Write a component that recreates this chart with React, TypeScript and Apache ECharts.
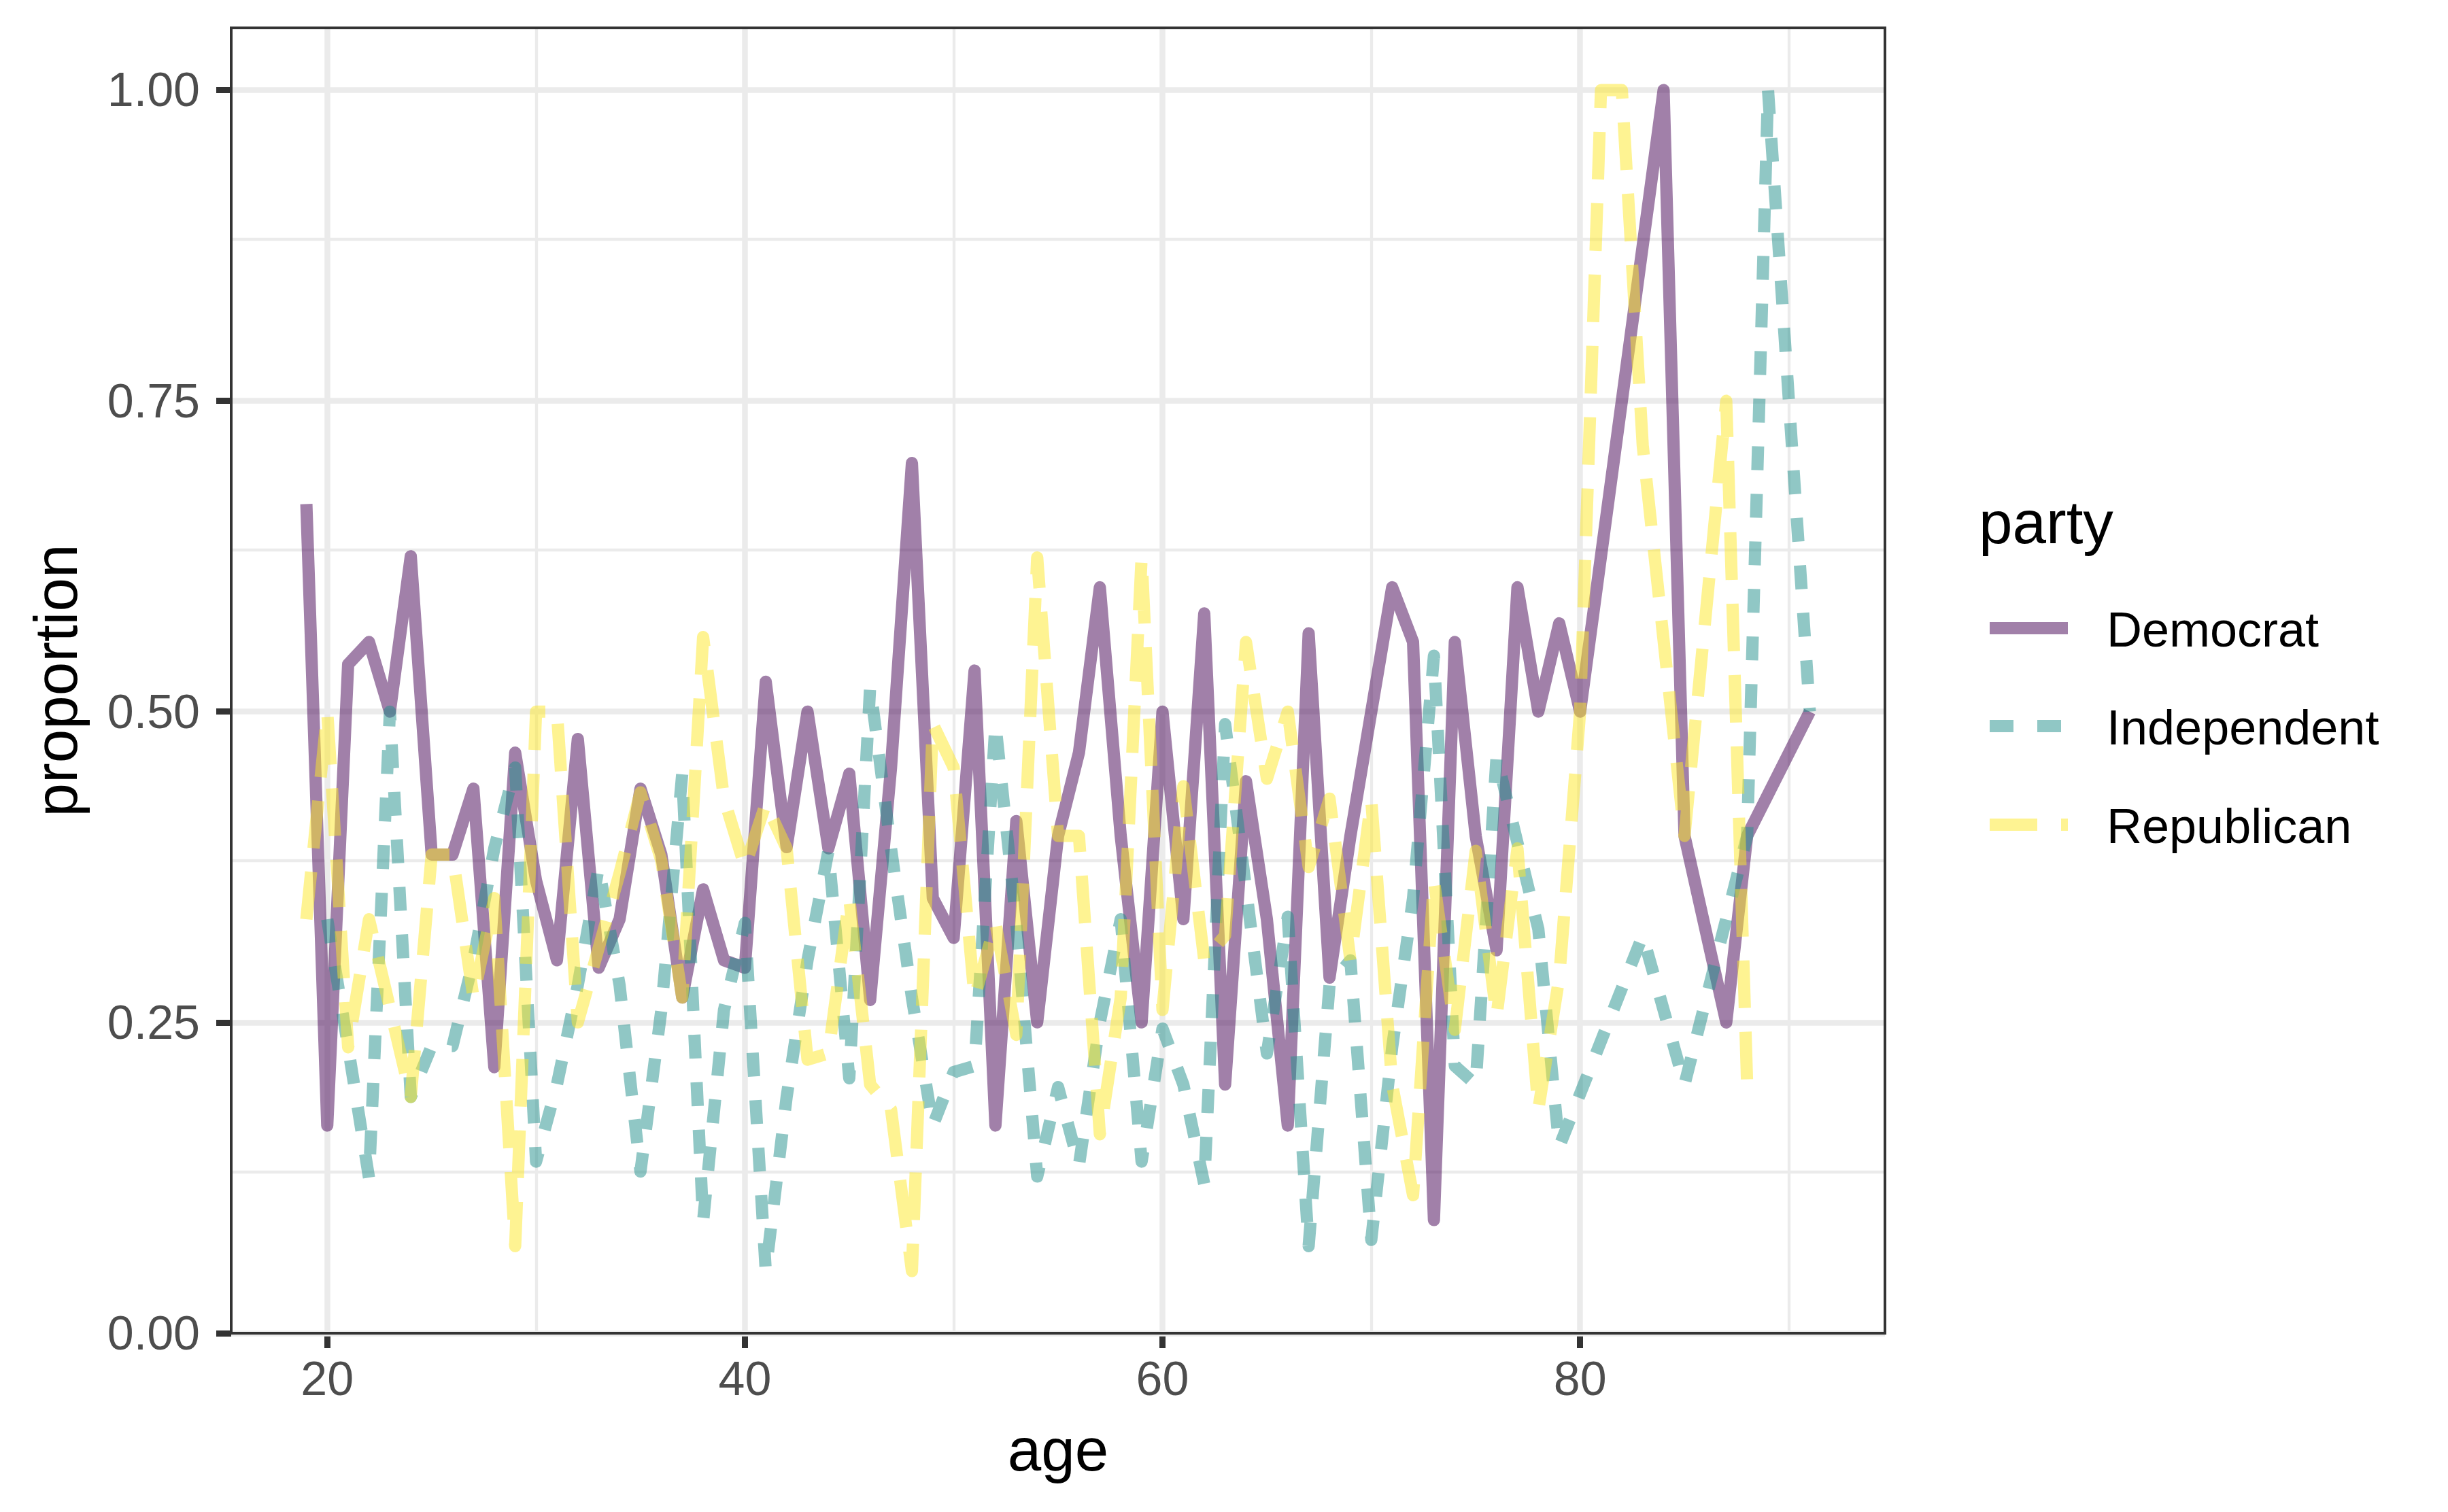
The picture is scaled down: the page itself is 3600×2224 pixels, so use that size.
import React, { useEffect, useRef } from "react";
import * as echarts from "echarts";

// ---- data (age, proportion) ----
const democrat: [number, number][] = [
  [19, 0.667], [20, 0.167], [21, 0.538], [22, 0.556], [23, 0.5], [24, 0.625], [25, 0.385], [26, 0.385],
  [27, 0.438], [28, 0.214], [29, 0.467], [30, 0.364], [31, 0.3], [32, 0.478], [33, 0.294], [34, 0.333],
  [35, 0.438], [36, 0.385], [37, 0.27], [38, 0.357], [39, 0.3], [40, 0.294], [41, 0.524], [42, 0.391],
  [43, 0.5], [44, 0.39], [45, 0.45], [46, 0.268], [47, 0.455], [48, 0.7], [49, 0.35], [50, 0.318],
  [51, 0.533], [52, 0.167], [53, 0.412], [54, 0.25], [55, 0.4], [56, 0.467], [57, 0.6], [58, 0.4],
  [59, 0.25], [60, 0.5], [61, 0.333], [62, 0.579], [63, 0.2], [64, 0.444], [65, 0.333], [66, 0.167],
  [67, 0.563], [68, 0.286], [69, 0.4], [70, 0.5], [71, 0.6], [72, 0.556], [73, 0.091], [74, 0.556],
  [75, 0.4], [76, 0.308], [77, 0.6], [78, 0.5], [79, 0.571], [80, 0.5], [84, 1], [85, 0.4],
  [87, 0.25], [88, 0.4], [91, 0.5],
];
const independent: [number, number][] = [
  [20, 0.333], [21, 0.23], [22, 0.125], [23, 0.5], [24, 0.19], [25, 0.231], [26, 0.231], [27, 0.3],
  [28, 0.39], [29, 0.455], [30, 0.138], [31, 0.2], [32, 0.28], [33, 0.375], [34, 0.28], [35, 0.13],
  [36, 0.26], [37, 0.45], [38, 0.09], [39, 0.26], [40, 0.33], [41, 0.05], [42, 0.19], [43, 0.3],
  [44, 0.388], [45, 0.205], [46, 0.52], [47, 0.39], [48, 0.27], [49, 0.167], [50, 0.21], [51, 0.215],
  [52, 0.49], [53, 0.33], [54, 0.126], [55, 0.198], [56, 0.135], [57, 0.25], [58, 0.333], [59, 0.138],
  [60, 0.245], [61, 0.2], [62, 0.12], [63, 0.49], [65, 0.225], [66, 0.335], [67, 0.07], [68, 0.28],
  [69, 0.3], [70, 0.075], [71, 0.23], [72, 0.35], [73, 0.545], [74, 0.215], [75, 0.2], [76, 0.464],
  [78, 0.325], [79, 0.15], [83, 0.32], [85, 0.2], [88, 0.4], [89, 1], [91, 0.5],
];
const republican: [number, number][] = [
  [19, 0.333], [20, 0.5], [21, 0.23], [22, 0.333], [24, 0.19], [25, 0.385], [26, 0.385], [27, 0.27],
  [28, 0.35], [29, 0.07], [30, 0.5], [31, 0.5], [32, 0.25], [33, 0.31], [34, 0.37], [35, 0.435],
  [36, 0.38], [37, 0.27], [38, 0.56], [39, 0.43], [40, 0.375], [41, 0.426], [42, 0.39], [43, 0.22],
  [44, 0.225], [45, 0.35], [46, 0.2], [47, 0.18], [48, 0.05], [49, 0.49], [50, 0.455], [51, 0.27],
  [52, 0.33], [53, 0.24], [54, 0.624], [55, 0.4], [56, 0.4], [57, 0.16], [58, 0.27], [59, 0.624],
  [60, 0.26], [61, 0.44], [62, 0.3], [63, 0.32], [64, 0.556], [65, 0.446], [66, 0.5], [67, 0.375],
  [68, 0.43], [69, 0.3], [70, 0.429], [71, 0.2], [72, 0.111], [73, 0.364], [74, 0.244], [75, 0.388],
  [76, 0.255], [77, 0.39], [78, 0.18], [79, 0.286], [80, 0.5], [81, 1], [82, 1], [83, 0.714],
  [85, 0.4], [87, 0.75], [88, 0.2],
];

const parties = ["Democrat", "Independent", "Republican"];
const xTicks = [20, 40, 60, 80];
const xMinor = [30, 50, 70, 90];
const yTicks = [0, 0.25, 0.5, 0.75, 1];
const yMinor = [0.125, 0.375, 0.625, 0.875];

const FONT = "'Liberation Sans', Arial, Helvetica, sans-serif";
const COLORS = ["rgba(68,1,84,0.5)", "rgba(33,144,140,0.5)", "rgba(253,231,37,0.5)"];
const DASHES: any[] = ["solid", [35, 35], [70, 35]];
const LW = 18;

const GRID = { left: 340, top: 41, width: 2432, height: 1920 };

export default function App() {
  const ref = useRef<HTMLDivElement>(null);
  useEffect(() => {
    if (!ref.current) return;
    const chart = echarts.init(ref.current, undefined, { renderer: "svg" });
    const seriesData = [democrat, independent, republican];

    const gridMarks = [
      ...xTicks.map((v) => ({ xAxis: v, lineStyle: { width: 8.5 } })),
      ...xMinor.map((v) => ({ xAxis: v, lineStyle: { width: 4.3 } })),
      ...yTicks.map((v) => ({ yAxis: v, lineStyle: { width: 8.5 } })),
      ...yMinor.map((v) => ({ yAxis: v, lineStyle: { width: 4.3 } })),
    ];

    const legendX0 = 2926;
    const legendX1 = 3041;
    const legendYs = [924, 1068, 1213];
    const legendGraphics: any[] = [];
    parties.forEach((p, i) => {
      legendGraphics.push({
        type: "line",
        silent: true,
        shape: { x1: legendX0, y1: legendYs[i], x2: legendX1, y2: legendYs[i] },
        style: {
          stroke: COLORS[i],
          lineWidth: LW,
          lineCap: "butt",
          lineDash: i === 0 ? null : DASHES[i],
        },
      });
      legendGraphics.push({
        type: "text",
        silent: true,
        x: 3098,
        y: legendYs[i] + 2,
        style: {
          text: p,
          fontSize: 72,
          fontFamily: FONT,
          fill: "#000000",
          align: "left",
          verticalAlign: "middle",
          textAlign: "left",
          textVerticalAlign: "middle",
        },
      });
    });

    const option: any = {
      animation: false,
      backgroundColor: "#ffffff",
      grid: { ...GRID },
      xAxis: {
        type: "value",
        min: 15.4,
        max: 94.6,
        axisLine: { show: false },
        splitLine: { show: false },
        axisTick: {
          show: true,
          customValues: xTicks,
          length: 22,
          lineStyle: { color: "#333333", width: 9 },
        },
        axisLabel: {
          customValues: xTicks,
          margin: 32,
          color: "#4D4D4D",
          fontSize: 70,
          fontFamily: FONT,
        },
      },
      yAxis: {
        type: "value",
        min: 0,
        max: 1.05,
        axisLine: { show: false },
        splitLine: { show: false },
        axisTick: {
          show: true,
          customValues: yTicks,
          length: 22,
          lineStyle: { color: "#333333", width: 9 },
        },
        axisLabel: {
          customValues: yTicks,
          margin: 46,
          color: "#4D4D4D",
          fontSize: 70,
          fontFamily: FONT,
          formatter: (v: number) => v.toFixed(2),
        },
      },
      series: [
        {
          type: "line",
          name: "grid",
          data: [[15.4, null]],
          showSymbol: false,
          silent: true,
          z: 1,
          lineStyle: { width: 0 },
          markLine: {
            z: 1,
            silent: true,
            symbol: ["none", "none"],
            label: { show: false },
            lineStyle: { color: "#EBEBEB", type: "solid" },
            emphasis: { disabled: true },
            data: gridMarks,
          },
        },
        ...parties.map((p, i) => ({
          type: "line",
          name: p,
          data: seriesData[i],
          showSymbol: false,
          symbol: "none",
          silent: true,
          z: 3,
          lineStyle: {
            color: COLORS[i],
            width: LW,
            type: DASHES[i],
            cap: "butt",
            join: "round",
            opacity: 1,
          },
        })),
      ],
      graphic: [
        {
          type: "rect",
          silent: true,
          z: 100,
          shape: { x: GRID.left, y: GRID.top, width: GRID.width, height: GRID.height },
          style: { fill: "none", stroke: "#333333", lineWidth: 4 },
        },
        {
          type: "text",
          silent: true,
          x: GRID.left + GRID.width / 2,
          y: 2132,
          style: {
            text: "age",
            fontSize: 89,
            fontFamily: FONT,
            fill: "#000000",
            align: "center",
            verticalAlign: "middle",
            textAlign: "center",
            textVerticalAlign: "middle",
          },
        },
        {
          type: "text",
          silent: true,
          x: 82,
          y: GRID.top + GRID.height / 2,
          rotation: Math.PI / 2,
          style: {
            text: "proportion",
            fontSize: 89,
            fontFamily: FONT,
            fill: "#000000",
            align: "center",
            verticalAlign: "middle",
            textAlign: "center",
            textVerticalAlign: "middle",
          },
        },
        {
          type: "text",
          silent: true,
          x: 2910,
          y: 768,
          style: {
            text: "party",
            fontSize: 89,
            fontFamily: FONT,
            fill: "#000000",
            align: "left",
            verticalAlign: "middle",
            textAlign: "left",
            textVerticalAlign: "middle",
          },
        },
        ...legendGraphics,
      ],
    };
    chart.setOption(option);
    return () => chart.dispose();
  }, []);

  return (
    <div
      ref={ref}
      style={{ position: "absolute", left: 0, top: 0, width: 3600, height: 2224, background: "#fff" }}
    />
  );
}
